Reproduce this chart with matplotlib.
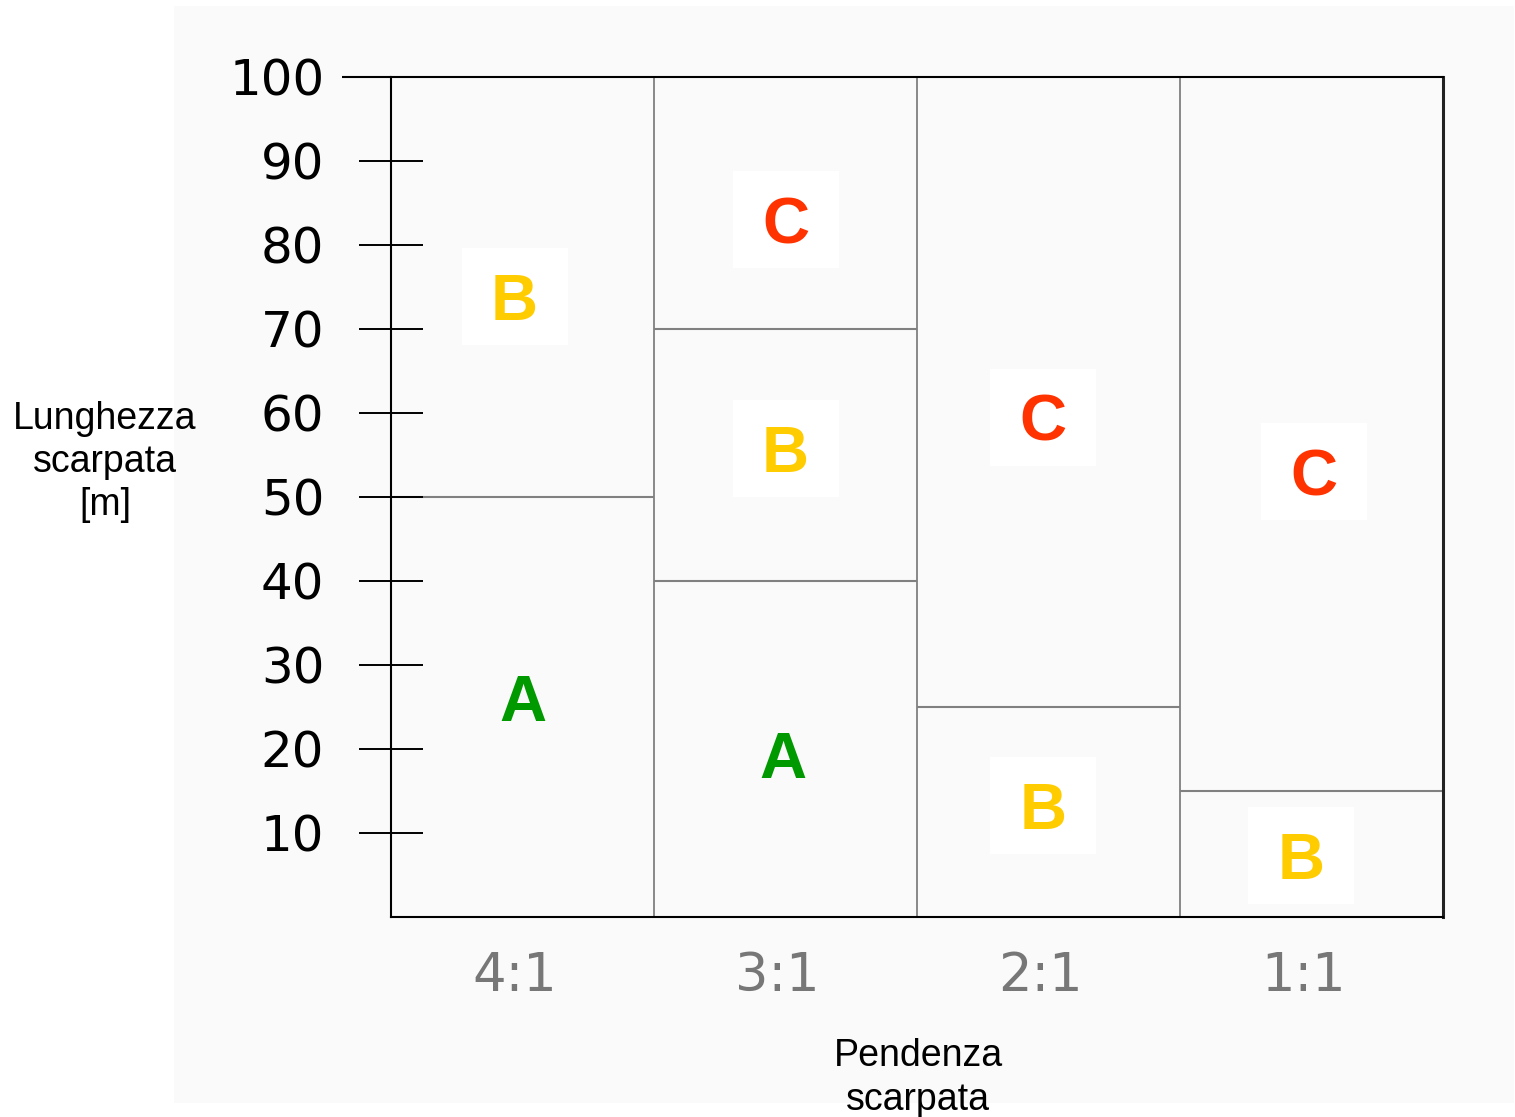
import matplotlib
matplotlib.use("Agg")
import matplotlib.pyplot as plt
from matplotlib.patches import Rectangle
from matplotlib import transforms

# ---- data ----
slopes = ["4:1", "3:1", "2:1", "1:1"]
y_ticks = [10, 20, 30, 40, 50, 60, 70, 80, 90, 100]
# class boundaries (length in m) for each slope column
boundaries = [[50], [40, 70], [25], [15]]
# zone classes for each column, bottom to top
zones = [["A", "B"], ["A", "B", "C"], ["B", "C"], ["B", "C"]]
# label placement inside each zone (x within column, y in m)
label_x = [[0.50, 0.47], [0.49, 0.50, 0.50], [0.48, 0.48], [0.46, 0.51]]
label_y = [[26.2, 73.9], [19.4, 55.8, 83.0], [13.3, 59.5], [7.3, 53.0]]
zone_colors = {"A": "#009900", "B": "#ffcc00", "C": "#ff3300"}
boxed = {"A": False, "B": True, "C": True}
ymax = 100

W, H = 1515, 1117
fig = plt.figure(figsize=(W / 100, H / 100), dpi=100)
fig.patch.set_facecolor("white")
fig.patches.append(Rectangle((174 / W, 1 - 1103 / H), 1340 / W, 1097 / H,
                             transform=fig.transFigure, facecolor="#fafafa",
                             edgecolor="none", zorder=-5))

ax = fig.add_axes([391 / W, 1 - 917 / H, (1443 - 391) / W, (917 - 77) / H])
ax.set_facecolor("none")
ax.set_zorder(2)
ax.set_xlim(0, len(slopes))
ax.set_ylim(0, ymax)

# column dividers
for i in range(1, len(slopes)):
    ax.axvline(i, color="#808080", lw=1.3, zorder=1)

# zone boundaries
for i, bnds in enumerate(boundaries):
    for b in bnds:
        ax.plot([i, i + 1], [b, b], color="#808080", lw=1.5, zorder=1,
                solid_capstyle="butt")

# zone labels with white boxes
box_w = 106 / 263
box_h = 97 / 840 * ymax
txt_tr = transforms.offset_copy(ax.transData, fig=fig, y=-17, units="points")
for i, zl in enumerate(zones):
    for z, lx, ly in zip(zl, label_x[i], label_y[i]):
        x = i + lx
        if boxed[z]:
            ax.add_patch(Rectangle((x - box_w / 2, ly - box_h / 2), box_w, box_h,
                                   facecolor="white", edgecolor="none", zorder=2))
        ax.text(x, ly, z, transform=txt_tr, ha="center", va="baseline",
                fontsize=47, fontweight="bold", family="Liberation Sans",
                color=zone_colors[z], zorder=3)

# spines
for s in ["left", "top", "bottom"]:
    ax.spines[s].set_color("black")
    ax.spines[s].set_linewidth(1.5)
ax.spines["right"].set_color("#222222")
ax.spines["right"].set_linewidth(2.2)
# top line extends left past the axis
ax.plot([-49 / 1052, 0], [ymax, ymax], transform=ax.get_yaxis_transform(),
        color="black", lw=1.5, clip_on=False, solid_capstyle="butt")

# y ticks
ax.set_yticks(y_ticks)
ax.set_yticklabels([str(v) for v in y_ticks], fontsize=36,
                   family="DejaVu Sans", color="black")
ax.tick_params(axis="y", direction="inout", length=46, width=1.4, pad=25)

# x ticks
ax.set_xticks([i + 0.47 for i in range(len(slopes))])
ax.set_xticklabels(slopes, fontsize=38, family="DejaVu Sans", color="#777777")
ax.tick_params(axis="x", length=0, pad=24)

# axis titles
fig.text(105 / W, 1 - 462 / H, "Lunghezza\nscarpata\n[m]", ha="center",
         va="center", fontsize=27, family="Liberation Sans", linespacing=1.25)
fig.text(918 / W, 1 - 1078 / H, "Pendenza\nscarpata", ha="center",
         va="center", fontsize=27, family="Liberation Sans", linespacing=1.25)

fig.savefig("out.png", dpi=100, facecolor="white")
